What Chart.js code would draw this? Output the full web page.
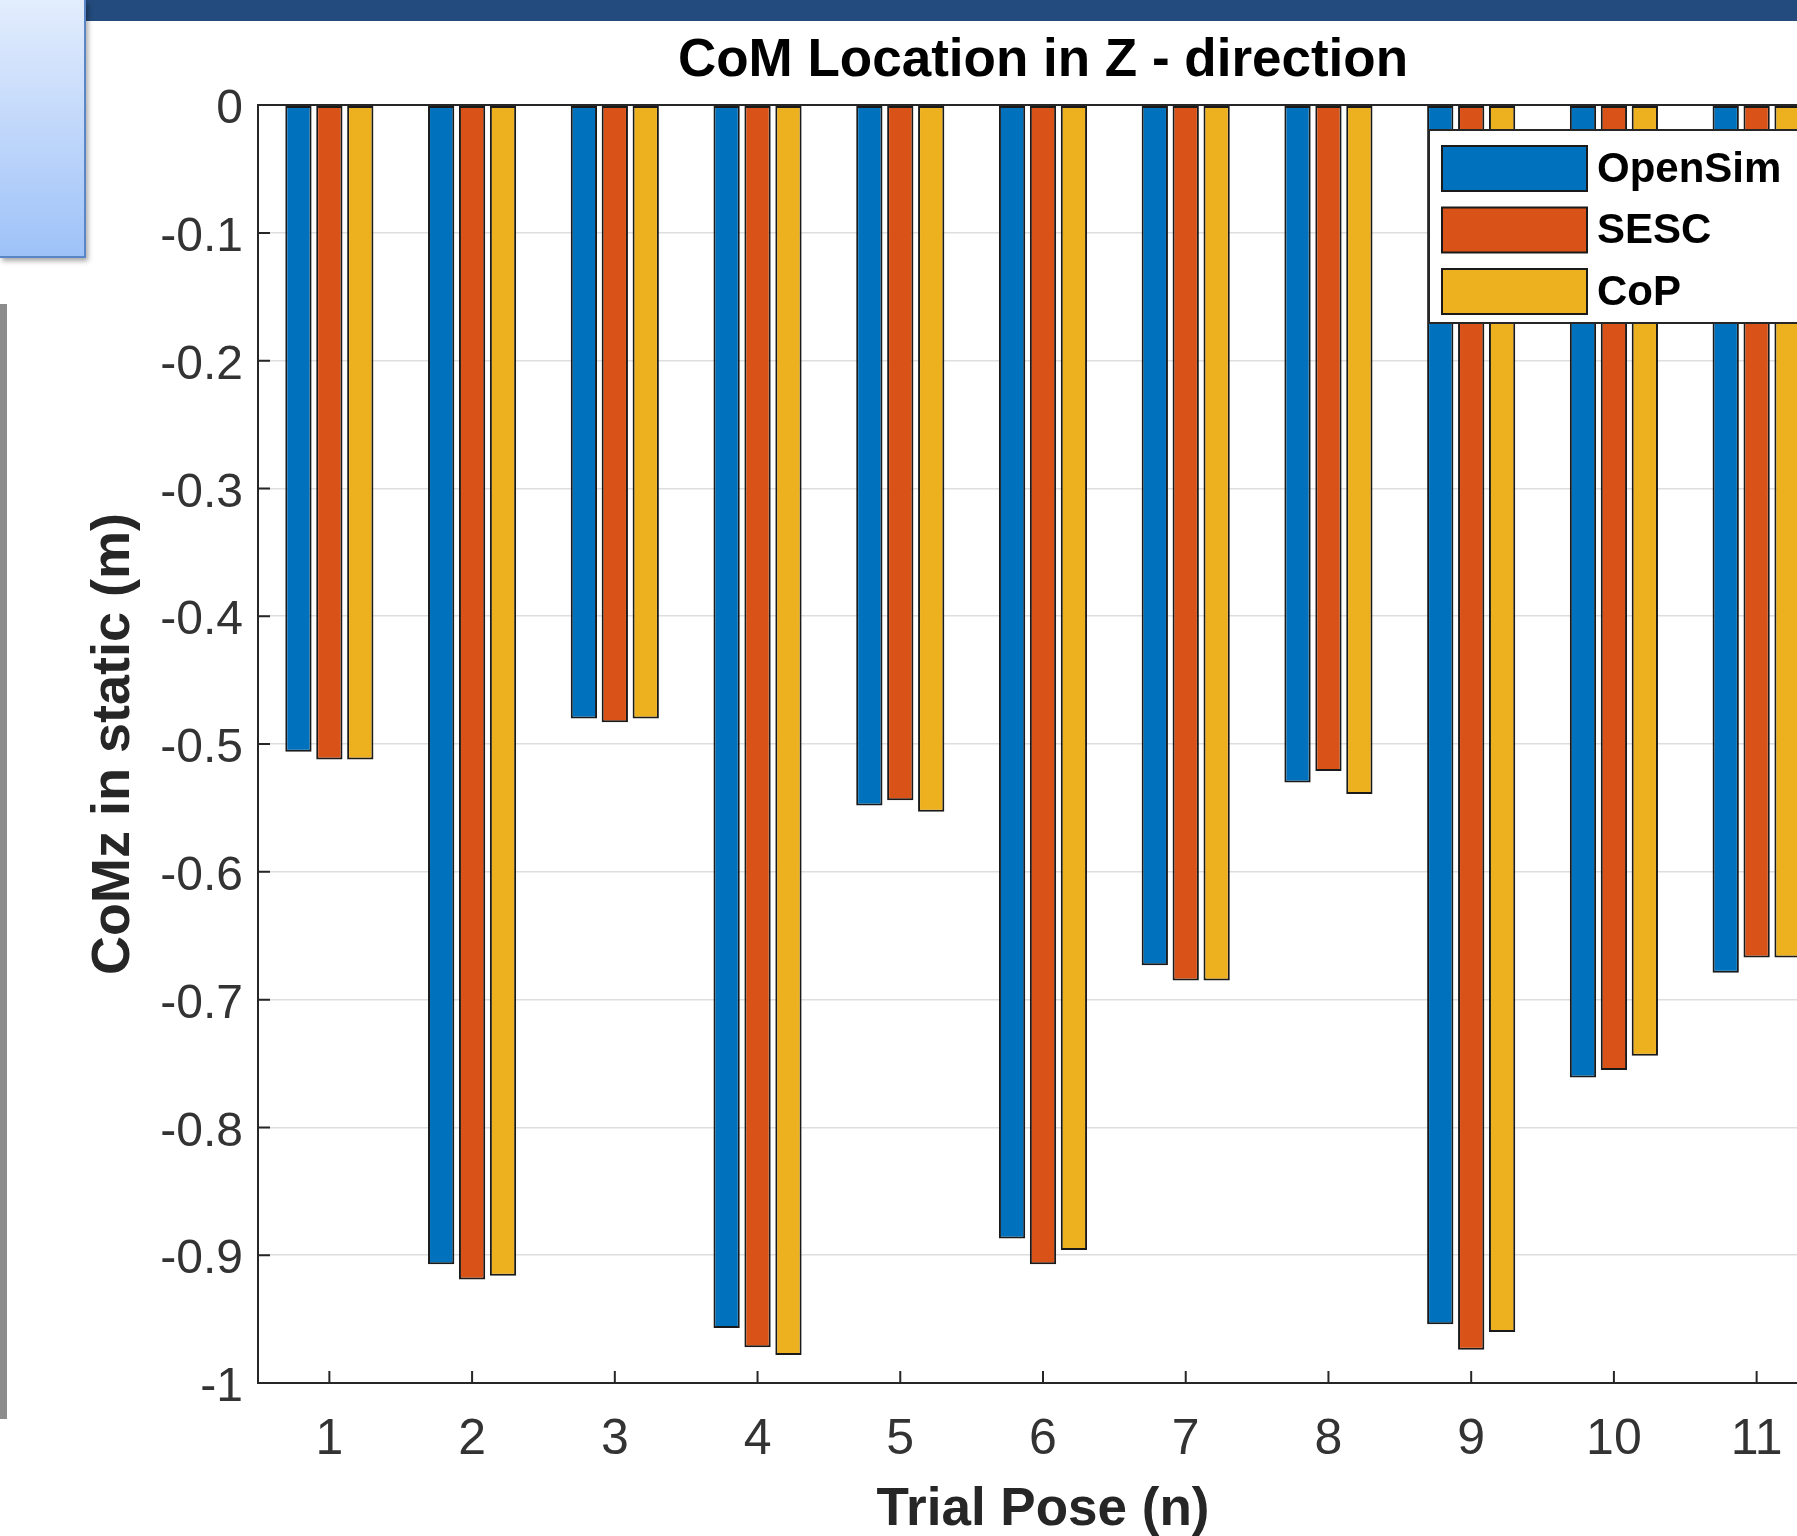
<!DOCTYPE html>
<html>
<head>
<meta charset="utf-8">
<script src="https://cdn.jsdelivr.net/npm/chart.js@4.4.0/dist/chart.umd.min.js"></script>
<style>
html, body { margin:0; padding:0; overflow:hidden; background:#ffffff; width:1797px; height:1536px; }
#wrap { position:absolute; left:0; top:0; width:1850px; height:1542px; }
#band { position:absolute; left:86px; top:0; width:1711px; height:21px; background:#234b7d; }
#box { position:absolute; left:0; top:0; width:84px; height:256px;
       background:linear-gradient(#e3edfd, #9ec2f8);
       border-right:2px solid #5a86c8; border-bottom:2px solid #5a86c8;
       box-shadow:2px 3px 5px rgba(0,0,0,0.35); }
#gray { position:absolute; left:0; top:304px; width:7px; height:1115px; background:#8c8c8c; }
</style>
</head>
<body>
<div id="wrap"><canvas id="c" width="1850" height="1542"></canvas></div>
<div id="band"></div>
<div id="box"></div>
<div id="gray"></div>
<script>
// ---- data ----
const categories = ['1', '2', '3', '4', '5', '6', '7', '8', '9', '10', '11'];
const openSim = [-0.506, -0.907, -0.480, -0.957, -0.548, -0.887, -0.673, -0.530, -0.954, -0.761, -0.679];
const sesc    = [-0.512, -0.919, -0.483, -0.972, -0.544, -0.907, -0.685, -0.521, -0.974, -0.755, -0.667];
const cop     = [-0.512, -0.916, -0.480, -0.978, -0.553, -0.896, -0.685, -0.539, -0.960, -0.744, -0.667];
const seriesNames = ['OpenSim', 'SESC', 'CoP'];
const yTickValues = [0, -0.1, -0.2, -0.3, -0.4, -0.5, -0.6, -0.7, -0.8, -0.9, -1];
const yTickLabels = ['0', '-0.1', '-0.2', '-0.3', '-0.4', '-0.5', '-0.6', '-0.7', '-0.8', '-0.9', '-1'];

const FONT = "'Liberation Sans', Arial, Helvetica, sans-serif";
const AXIS = '#262626';
const colors = ['#0072BD', '#D95319', '#EDB120'];

const innerTicks = {
  id: 'innerTicks',
  afterDatasetsDraw(chart) {
    const {ctx, chartArea} = chart;
    const y = chart.scales.y, x = chart.scales.x;
    ctx.save();
    ctx.strokeStyle = AXIS;
    ctx.lineWidth = 2;
    ctx.beginPath();
    y.ticks.forEach(t => {
      const py = y.getPixelForValue(t.value);
      ctx.moveTo(chartArea.left, py);
      ctx.lineTo(chartArea.left + 12, py);
    });
    categories.forEach((c, i) => {
      const px = x.getPixelForValue(i);
      ctx.moveTo(px, chartArea.bottom);
      ctx.lineTo(px, chartArea.bottom - 12);
    });
    ctx.stroke();
    ctx.restore();
  }
};

const boxLegend = {
  id: 'boxLegend',
  afterDraw(chart) {
    const ctx = chart.ctx;
    const left = 1429, top = 130, width = 390, height = 193;
    ctx.save();
    ctx.fillStyle = '#ffffff';
    ctx.fillRect(left, top, width, height);
    ctx.strokeStyle = AXIS;
    ctx.lineWidth = 2;
    ctx.strokeRect(left, top, width, height);
    ctx.font = "bold 42px " + FONT;
    ctx.textBaseline = 'middle';
    ctx.textAlign = 'left';
    chart.data.datasets.forEach((ds, i) => {
      const sy = 146 + i * 61.5;
      ctx.fillStyle = ds.backgroundColor;
      ctx.fillRect(1442, sy, 145, 45);
      ctx.strokeStyle = '#1a1a1a';
      ctx.lineWidth = 2;
      ctx.strokeRect(1442, sy, 145, 45);
      ctx.fillStyle = '#000000';
      ctx.fillText(ds.label, 1597, sy + 24);
    });
    ctx.restore();
  }
};

new Chart(document.getElementById('c'), {
  type: 'bar',
  data: {
    labels: categories,
    datasets: [openSim, sesc, cop].map((vals, i) => ({
      label: seriesNames[i],
      data: vals,
      backgroundColor: colors[i],
      borderColor: '#1a1a1a',
      borderWidth: 2,
      borderSkipped: false,
      categoryPercentage: 0.65,
      barPercentage: 0.85
    }))
  },
  options: {
    responsive: false,
    animation: false,
    devicePixelRatio: 1,
    layout: { padding: { left: 0, right: 22, top: 0, bottom: 0 } },
    plugins: {
      legend: { display: false },
      tooltip: { enabled: false },
      title: {
        display: true,
        text: 'CoM Location in Z - direction',
        fullSize: false,
        color: '#000000',
        font: { family: FONT, size: 53, weight: 'bold', lineHeight: 1.2 },
        padding: { top: 29.5, bottom: 12 }
      }
    },
    scales: {
      x: {
        type: 'category',
        grid: { display: false, drawTicks: false },
        border: { display: true, color: AXIS, width: 2 },
        ticks: { color: '#333333', font: { family: FONT, size: 50 }, padding: 27, maxRotation: 0 },
        title: {
          display: true,
          text: 'Trial Pose (n)',
          color: AXIS,
          font: { family: FONT, size: 53, weight: 'bold', lineHeight: 1.2 },
          padding: { top: 0, bottom: 0 }
        },
        afterFit(s) { s.height = 159; }
      },
      y: {
        type: 'linear',
        min: -1,
        max: 0,
        afterBuildTicks(s) { s.ticks = yTickValues.map(v => ({ value: v })); },
        grid: {
          drawTicks: false,
          color: ctx => (ctx.tick && ctx.tick.value === 0) ? AXIS : '#dedede',
          lineWidth: ctx => (ctx.tick && ctx.tick.value === 0) ? 2 : 1.6
        },
        border: { display: true, color: AXIS, width: 2 },
        ticks: {
          color: '#333333',
          font: { family: FONT, size: 48 },
          padding: 15,
          labelOffset: 5,
          callback: (v) => {
            const i = yTickValues.findIndex(t => Math.abs(t - v) < 1e-6);
            return i >= 0 ? yTickLabels[i] : '';
          }
        },
        title: {
          display: true,
          text: 'CoMz in static (m)',
          color: AXIS,
          font: { family: FONT, size: 54, weight: 'bold', lineHeight: 1.2 },
          padding: { top: 82, bottom: 0 }
        },
        afterFit(s) { s.width = 258; }
      }
    }
  },
  plugins: [innerTicks, boxLegend]
});
</script>
</body>
</html>
